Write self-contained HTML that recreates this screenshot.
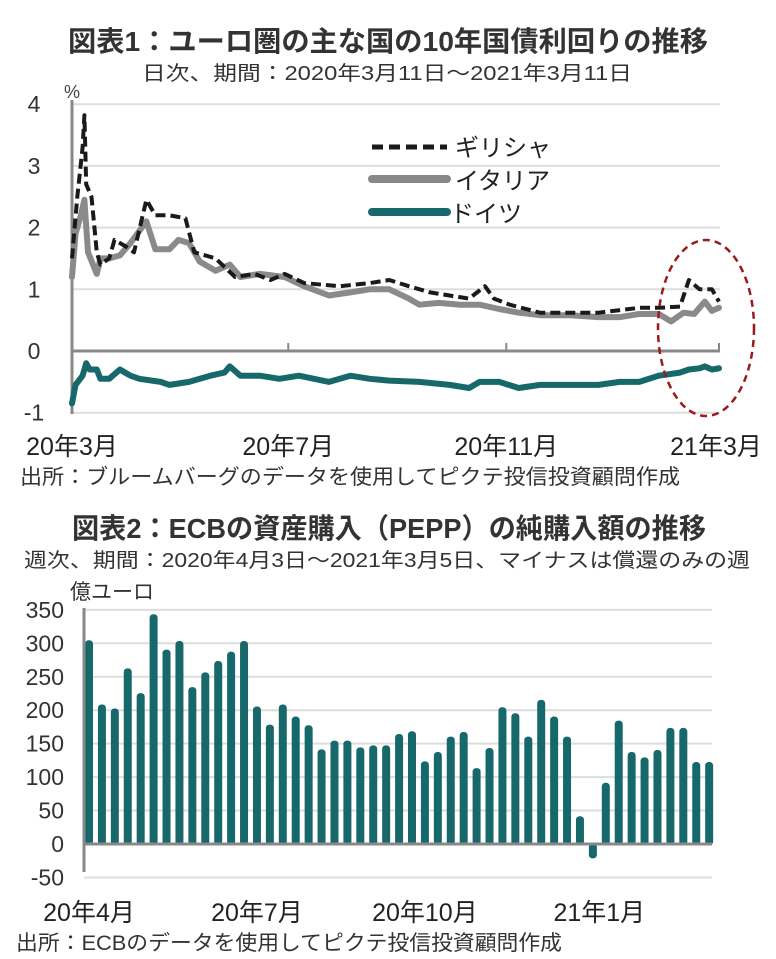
<!DOCTYPE html>
<html><head><meta charset="utf-8"><style>
body{margin:0;background:#fff;}
svg{display:block;font-family:"Liberation Sans","Noto Sans CJK JP",sans-serif;}
</style></head><body>
<svg width="776" height="959" viewBox="0 0 776 959">
<text x="68" y="51" textLength="640" lengthAdjust="spacingAndGlyphs" font-size="28" font-weight="bold" fill="#333">図表1：ユーロ圏の主な国の10年国債利回りの推移</text>
<text x="142" y="80" textLength="490" lengthAdjust="spacingAndGlyphs" font-size="20" fill="#333">日次、期間：2020年3月11日～2021年3月11日</text>
<text x="64" y="98" font-size="18" fill="#444">%</text>
<g id="c1"></g>
<g>
<line x1="372" y1="147" x2="447" y2="147" stroke="#1a1a1a" stroke-width="5" stroke-dasharray="11,6"/>
<text x="455" y="156" font-size="24" fill="#222">ギリシャ</text>
<line x1="372" y1="179" x2="447" y2="179" stroke="#888" stroke-width="8" stroke-linecap="round"/>
<text x="455" y="189" font-size="24" fill="#222">イタリア</text>
<line x1="372" y1="212" x2="447" y2="212" stroke="#17686a" stroke-width="8" stroke-linecap="round"/>
<text x="450" y="222" font-size="24" fill="#222">ドイツ</text>
</g>
<ellipse cx="706" cy="328" rx="48" ry="88" fill="none" stroke="#9b1b1b" stroke-width="2.5" stroke-dasharray="7,5"/>
<text x="20" y="484" textLength="660" lengthAdjust="spacingAndGlyphs" font-size="21" fill="#333">出所：ブルームバーグのデータを使用してピクテ投信投資顧問作成</text>

<text x="72" y="538" textLength="634" lengthAdjust="spacingAndGlyphs" font-size="28" font-weight="bold" fill="#333">図表2：ECBの資産購入（PEPP）の純購入額の推移</text>
<text x="24" y="567" textLength="726" lengthAdjust="spacingAndGlyphs" font-size="20" fill="#333">週次、期間：2020年4月3日～2021年3月5日、マイナスは償還のみの週</text>
<text x="70" y="599" font-size="21" fill="#333">億ユーロ</text>
<g id="c2"></g>
<text x="16" y="950" textLength="546" lengthAdjust="spacingAndGlyphs" font-size="21" fill="#333">出所：ECBのデータを使用してピクテ投信投資顧問作成</text>
</svg>
<script>
const NS="http://www.w3.org/2000/svg";
function mk(p,t,a){const e=document.createElementNS(NS,t);for(const k in a)e.setAttribute(k,a[k]);p.appendChild(e);return e;}
// ---- chart 1 data ----
const yTicks1=[4,3,2,1,0,-1];
const xLabels1=["20年3月","20年7月","20年11月","21年3月"];
const xLabelDays1=[0,122,245,365];
const italyDays=[0,2,5,7,9,14,16,21,27,33,42,47,55,60,66,72,81,89,95,106,120,131,145,157,168,179,190,196,207,219,230,241,252,264,281,297,309,320,331,338,345,351,357,361,365];
const italyVals=[1.2,1.9,2.2,2.45,1.6,1.25,1.5,1.5,1.55,1.75,2.1,1.65,1.65,1.8,1.75,1.45,1.3,1.4,1.2,1.25,1.2,1.05,0.9,0.95,1.0,1.0,0.85,0.75,0.78,0.75,0.75,0.68,0.62,0.58,0.58,0.55,0.55,0.6,0.6,0.48,0.62,0.6,0.8,0.65,0.7];
const greeceDays=[0,3,6,7,8,11,14,16,21,24,30,35,42,47,55,64,69,81,92,103,112,120,131,151,168,179,190,202,213,224,233,238,247,264,275,297,320,331,343,348,354,361,365];
const greeceVals=[1.5,2.5,3.3,3.82,2.7,2.5,1.6,1.4,1.5,1.8,1.7,1.6,2.45,2.2,2.2,2.15,1.6,1.5,1.2,1.25,1.15,1.25,1.1,1.05,1.1,1.15,1.05,0.95,0.9,0.85,1.05,0.85,0.75,0.62,0.62,0.62,0.7,0.7,0.72,1.15,1.0,1.0,0.8];
const germanyDays=[0,2,6,8,10,14,16,21,27,33,38,50,55,66,78,86,89,95,106,117,128,145,157,168,179,196,213,224,230,241,252,264,281,297,309,320,331,343,348,354,357,361,365];
const germanyVals=[-0.85,-0.55,-0.4,-0.2,-0.3,-0.3,-0.45,-0.45,-0.3,-0.4,-0.45,-0.5,-0.55,-0.5,-0.4,-0.35,-0.25,-0.4,-0.4,-0.45,-0.4,-0.5,-0.4,-0.45,-0.48,-0.5,-0.55,-0.6,-0.5,-0.5,-0.6,-0.55,-0.55,-0.55,-0.5,-0.5,-0.4,-0.35,-0.3,-0.28,-0.25,-0.3,-0.28];
// ---- chart 2 data ----
const yTicks2=[350,300,250,200,150,100,50,0,-50];
const xLabels2=["20年4月","20年7月","20年10月","21年1月"];
const xLabelIdx2=[0,13,26,39.5];
const ecbVals=[303,207,201,261,224,342,289,302,233,255,272,286,302,204,177,207,189,176,140,153,153,143,146,146,163,167,122,136,159,166,112,142,203,194,159,214,189,159,40,-20,90,183,136,128,139,172,172,121,121];

const X1=d=>72+d/365*647, Y1=v=>351-v*61.7;
const c1=document.getElementById('c1');
yTicks1.forEach(v=>{
  if(v!==0){const g=mk(c1,'line',{x1:72,x2:720,y1:Y1(v),y2:Y1(v),stroke:'#ddd','stroke-width':2});
  
  }
  const t=mk(c1,'text',{x:34,y:Y1(v)+8,'text-anchor':'middle','font-size':23,fill:'#333'});t.textContent=v;
  
  
});
let ax=mk(c1,'line',{x1:72,x2:72,y1:100,y2:414,stroke:'#888','stroke-width':3});


ax=mk(c1,'line',{x1:72,x2:720,y1:351,y2:351,stroke:'#888','stroke-width':3});


xLabels1.forEach((l,i)=>{
  const x=X1(xLabelDays1[i]);
  if(i>0){const tk=mk(c1,'line',{x1:x,x2:x,y1:343,y2:351,stroke:'#888','stroke-width':2});
  
  }
  const t=mk(c1,'text',{x:Math.min(x,716),y:455,'text-anchor':'middle','font-size':25,fill:'#222'});t.textContent=l;
  
  
});
function path(days,vals){return days.map((d,i)=>(i?'L':'M')+X1(d).toFixed(1)+','+Y1(vals[i]).toFixed(1)).join('');}
let p=mk(c1,'path',{d:path(italyDays,italyVals),fill:'none',stroke:'#8a8a8a','stroke-width':6,'stroke-linejoin':'round','stroke-linecap':'round'});


p=mk(c1,'path',{d:path(greeceDays,greeceVals),fill:'none',stroke:'#1a1a1a','stroke-width':4,'stroke-dasharray':'10,5','stroke-linejoin':'round'});


p=mk(c1,'path',{d:path(germanyDays,germanyVals),fill:'none',stroke:'#17686a','stroke-width':6,'stroke-linejoin':'round','stroke-linecap':'round'});



const X2=i=>89+i*12.92, Y2=v=>844-v*0.669;
const c2=document.getElementById('c2');
yTicks2.forEach(v=>{
  if(v!==0){const g=mk(c2,'line',{x1:84,x2:712,y1:Y2(v),y2:Y2(v),stroke:'#ddd','stroke-width':2});
  
  }
  const t=mk(c2,'text',{x:64,y:Y2(v)+8,'text-anchor':'end','font-size':23,fill:'#333'});t.textContent=v;
  
  
});
ecbVals.forEach((v,i)=>{
  const y0=Y2(Math.max(v,0)),y1=Y2(Math.min(v,0));
  const r=mk(c2,'rect',{x:X2(i)-4,y:y0-1,width:8,height:Math.max(y1-y0+2,2),rx:3.5,fill:'#17686a'});
  
  
});
ax=mk(c2,'line',{x1:84,x2:84,y1:608,y2:872,stroke:'#888','stroke-width':3});


ax=mk(c2,'line',{x1:84,x2:712,y1:844,y2:844,stroke:'#888','stroke-width':3});


xLabels2.forEach((l,i)=>{
  const x=X2(xLabelIdx2[i]);
  const t=mk(c2,'text',{x:Math.max(x,88),y:921,'text-anchor':'middle','font-size':25,fill:'#222'});t.textContent=l;
  
  
});
</script>
</body></html>
